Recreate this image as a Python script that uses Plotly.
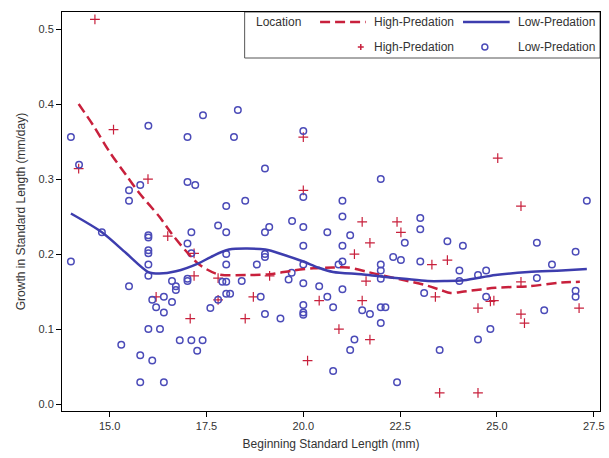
import plotly.graph_objects as go

# ---- data ----
high_x = [14.62, 14.20, 15.10, 15.99, 16.50, 17.18, 17.18, 16.20, 17.08, 20.00, 20.00,
          17.80, 17.80, 18.71, 19.13, 18.50, 20.11, 20.41, 21.52, 22.42, 22.52, 21.72,
          21.32, 21.62, 21.52, 20.92, 21.72, 23.32, 23.72, 23.41, 23.52, 25.02, 25.62,
          25.62, 24.51, 24.83, 24.92, 25.62, 25.71, 27.12, 24.51]
high_y = [0.513, 0.314, 0.366, 0.300, 0.224, 0.201, 0.171, 0.143, 0.114, 0.356, 0.285,
          0.168, 0.139, 0.143, 0.171, 0.114, 0.058, 0.138, 0.243, 0.243, 0.229, 0.215,
          0.200, 0.164, 0.138, 0.100, 0.086, 0.186, 0.192, 0.143, 0.015, 0.328, 0.264,
          0.163, 0.128, 0.137, 0.138, 0.120, 0.108, 0.128, 0.015]

low_x = [14.00, 14.21, 16.00, 17.01, 15.50, 15.50, 15.79, 17.01, 17.21,
         14.00, 14.80, 16.00, 16.00, 16.00, 16.00, 16.00, 16.00, 15.50, 17.11, 17.01,
         17.11, 16.61, 16.71, 16.71, 17.01, 17.01, 16.10, 16.40, 16.61, 16.20, 16.40,
         16.00, 16.30, 16.81, 17.11, 17.26, 15.30, 15.79, 16.10, 15.79, 16.40,
         17.41, 18.31, 18.21, 20.00, 19.01, 18.01, 18.50, 20.00, 19.71,
         17.80, 18.01, 19.01, 19.12, 20.00, 20.62, 20.00, 18.01, 18.01, 19.01, 19.01,
         18.80, 20.00, 19.70, 19.62, 17.91, 18.01, 18.41, 20.00, 20.41, 18.01, 18.11,
         17.80, 17.60, 18.90, 19.01, 19.41, 20.00, 20.00, 20.00, 20.62, 20.77, 17.40,
         20.77,
         22.00, 21.01, 21.01, 23.02, 23.02, 21.21, 21.01, 22.62, 23.72, 24.12, 22.32,
         22.52, 23.02, 21.01, 20.91, 22.00, 22.00, 22.00, 24.03, 24.03, 23.12, 21.01,
         21.52, 21.72, 22.00, 22.12, 22.00, 21.32, 21.21, 23.52, 22.42, 27.32,
         26.03, 27.03, 26.42, 24.51, 24.72, 26.03, 24.72, 27.03, 27.03, 26.22, 24.83,
         24.51]
low_y = [0.356, 0.319, 0.371, 0.356, 0.285, 0.271, 0.292, 0.296, 0.292,
         0.190, 0.229, 0.225, 0.222, 0.205, 0.201, 0.186, 0.171, 0.157, 0.229, 0.214,
         0.201, 0.164, 0.157, 0.152, 0.167, 0.164, 0.139, 0.143, 0.136, 0.129, 0.122,
         0.100, 0.100, 0.085, 0.085, 0.071, 0.079, 0.065, 0.058, 0.029, 0.029,
         0.385, 0.392, 0.356, 0.364, 0.314, 0.264, 0.271, 0.276, 0.244,
         0.238, 0.229, 0.229, 0.236, 0.236, 0.229, 0.211, 0.200, 0.186, 0.200, 0.196,
         0.186, 0.186, 0.175, 0.166, 0.163, 0.163, 0.164, 0.161, 0.157, 0.147, 0.147,
         0.139, 0.128, 0.143, 0.120, 0.114, 0.132, 0.122, 0.119, 0.143, 0.129, 0.085,
         0.044,
         0.300, 0.271, 0.250, 0.248, 0.233, 0.225, 0.211, 0.215, 0.217, 0.211, 0.196,
         0.192, 0.190, 0.190, 0.186, 0.186, 0.178, 0.167, 0.178, 0.164, 0.148, 0.153,
         0.125, 0.120, 0.129, 0.129, 0.108, 0.086, 0.072, 0.072, 0.029, 0.271,
         0.215, 0.203, 0.186, 0.172, 0.178, 0.168, 0.143, 0.151, 0.143, 0.125, 0.100,
         0.086]

high_fit_x = [14.20, 14.57, 15.00, 15.43, 15.77, 16.28, 16.62, 16.97, 17.31,
              17.80, 18.54, 19.13, 19.74, 20.26, 20.77, 21.15, 21.67, 22.00, 22.61, 23.12,
              23.55, 23.80, 24.15, 24.96, 25.81, 26.67, 27.14]
high_fit_y = [0.400, 0.372, 0.336, 0.305, 0.281, 0.250, 0.226, 0.204, 0.186,
              0.173, 0.172, 0.173, 0.178, 0.181, 0.182, 0.182, 0.176, 0.172, 0.165, 0.159,
              0.152, 0.148, 0.150, 0.155, 0.157, 0.162, 0.163]

low_fit_x = [14.00, 14.80, 15.43, 16.00, 16.28, 16.71, 17.31, 17.61, 18.08, 19.02, 19.49,
             20.00, 20.38, 20.77, 21.50, 22.00, 22.61, 23.21, 23.64, 24.15, 24.96, 25.81,
             26.67, 27.32]
low_fit_y = [0.254, 0.229, 0.201, 0.176, 0.174, 0.177, 0.188, 0.196, 0.206, 0.206, 0.199,
             0.190, 0.182, 0.176, 0.173, 0.170, 0.167, 0.164, 0.164, 0.165, 0.172, 0.176,
             0.178, 0.180]

x_ticks = [15.0, 17.5, 20.0, 22.5, 25.0, 27.5]
y_ticks = [0.0, 0.1, 0.2, 0.3, 0.4, 0.5]
legend_title = "Location"
group_names = ["High-Predation", "Low-Predation"]

RED = "#C8203C"
BLUE = "#3D3DAE"
CIRC = "#4B4BB8"
FONT = "Liberation Sans, Arial, sans-serif"
TXT = "#333333"

fig = go.Figure()
fig.add_trace(go.Scatter(x=high_x, y=high_y, mode="markers", name=group_names[0],
                         marker=dict(symbol="cross-thin-open", size=7,
                                     line=dict(color=RED, width=1.2), color=RED)))
fig.add_trace(go.Scatter(x=low_x, y=low_y, mode="markers", name=group_names[1],
                         marker=dict(symbol="circle-open", size=6.5,
                                     line=dict(color=CIRC, width=1.5), color=CIRC)))
fig.add_trace(go.Scatter(x=high_fit_x, y=high_fit_y, mode="lines", name=group_names[0],
                         line=dict(color=RED, width=2.5, dash="10px,5px", shape="spline",
                                   smoothing=0.8)))
fig.add_trace(go.Scatter(x=low_fit_x, y=low_fit_y, mode="lines", name=group_names[1],
                         line=dict(color=BLUE, width=2.5, shape="spline", smoothing=0.8)))

W, H = 609, 458
L, R, T, B = 62, 5, 12, 47
PW, PH = W - L - R, H - T - B


def px(xp):
    return (xp - L) / PW


def py(yp):
    return (H - B - yp) / PH


# manual legend (inset box at top right)
fig.add_shape(type="rect", xref="paper", yref="paper", x0=px(246), x1=px(604),
              y0=py(58), y1=py(12), line=dict(color="#555555", width=1),
              fillcolor="rgba(255,255,255,0)", layer="below")
row1, row2 = 22, 47
ann = dict(xref="paper", yref="paper", showarrow=False, xanchor="left", yanchor="middle",
           font=dict(family=FONT, size=12, color=TXT))
fig.add_annotation(x=px(255), y=py(row1), text=legend_title, **ann)
fig.add_annotation(x=px(374), y=py(row1), text=group_names[0], **ann)
fig.add_annotation(x=px(519), y=py(row1), text=group_names[1], **ann)
fig.add_annotation(x=px(374), y=py(row2), text=group_names[0], **ann)
fig.add_annotation(x=px(519), y=py(row2), text=group_names[1], **ann)
fig.add_shape(type="line", xref="paper", yref="paper", x0=px(322), x1=px(368),
              y0=py(row1), y1=py(row1), line=dict(color=RED, width=2.5, dash="10px,5px"))
fig.add_shape(type="line", xref="paper", yref="paper", x0=px(466), x1=px(513),
              y0=py(row1), y1=py(row1), line=dict(color=BLUE, width=2.5))
fig.add_shape(type="line", xref="paper", yref="paper", x0=px(360), x1=px(366),
              y0=py(row2), y1=py(row2), line=dict(color=RED, width=1.5))
fig.add_shape(type="line", xref="paper", yref="paper", x0=px(363), x1=px(363),
              y0=py(row2 - 3), y1=py(row2 + 3), line=dict(color=RED, width=1.5))
fig.add_shape(type="circle", xref="paper", yref="paper", x0=px(485), x1=px(491),
              y0=py(row2 + 3), y1=py(row2 - 3), line=dict(color=CIRC, width=1.5))

axis_common = dict(showgrid=False, zeroline=False, showline=True, linecolor="black",
                   linewidth=1, mirror=True, ticks="outside", ticklen=5,
                   tickcolor="black", tickfont=dict(family=FONT, size=11, color=TXT))
fig.update_xaxes(range=[13.77, 27.66], tickvals=x_ticks,
                 ticktext=[f"{v:.1f}" for v in x_ticks],
                 title=dict(text="Beginning Standard Length (mm)", standoff=8,
                            font=dict(family=FONT, size=12, color=TXT)), **axis_common)
fig.update_yaxes(range=[-0.0093, 0.5227], tickvals=y_ticks,
                 ticktext=[f"{v:.1f}" for v in y_ticks],
                 title=dict(text="Growth in Standard Length (mm/day)", standoff=10,
                            font=dict(family=FONT, size=12, color=TXT)), **axis_common)

fig.update_layout(width=W, height=H, margin=dict(l=L, r=R, t=T, b=B),
                  paper_bgcolor="white", plot_bgcolor="white", showlegend=False,
                  font=dict(family=FONT), hovermode=False)

fig.write_html("out.html", config={"displayModeBar": False},
               post_script="document.body.style.margin='0px';document.body.style.overflow='hidden';")
